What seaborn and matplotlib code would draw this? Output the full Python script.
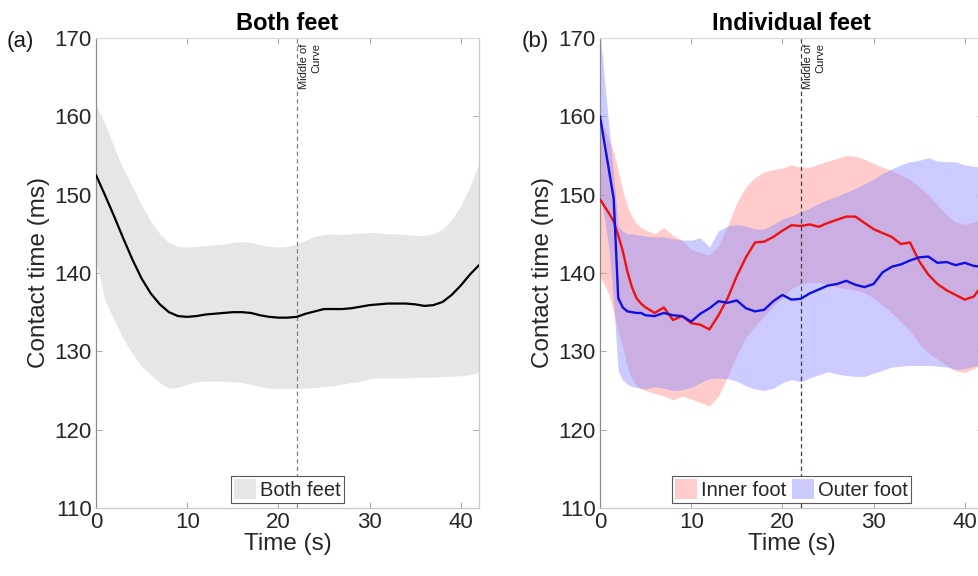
import matplotlib
matplotlib.use("Agg")
import numpy as np
import pandas as pd
import matplotlib.pyplot as plt
import seaborn as sns
from matplotlib.patches import Patch

# ---------------- data ----------------
# (a) both feet: mean and band limits, sampled every second
time_both = list(range(0, 43))
both_mean = [152.5, 149.9, 147.2, 144.4, 141.7, 139.3, 137.4, 136.0, 135.0, 134.5,
             134.4, 134.5, 134.7, 134.8, 134.9, 135.0, 135.0, 134.9, 134.6, 134.4,
             134.3, 134.3, 134.4, 134.8, 135.1, 135.4, 135.4, 135.4, 135.5, 135.7,
             135.9, 136.0, 136.1, 136.1, 136.1, 136.0, 135.8, 135.9, 136.3, 137.2,
             138.4, 139.8, 141.0]
both_upper = [161.4, 159.0, 156.0, 153.3, 151.0, 148.7, 146.6, 145.0, 143.9, 143.4,
              143.3, 143.4, 143.5, 143.6, 143.7, 143.9, 144.0, 143.9, 143.6, 143.4,
              143.3, 143.4, 143.7, 144.2, 144.7, 144.9, 145.0, 144.9, 145.0, 145.1,
              145.2, 145.1, 145.0, 145.0, 144.9, 144.8, 144.8, 145.0, 145.6, 146.8,
              148.6, 151.0, 154.0]
both_lower = [141.5, 136.5, 134.0, 131.6, 129.7, 128.1, 127.0, 126.0, 125.3, 125.4,
              125.8, 126.1, 126.2, 126.2, 126.2, 126.1, 126.0, 125.8, 125.5, 125.3,
              125.3, 125.3, 125.3, 125.3, 125.4, 125.5, 125.6, 125.8, 126.0, 126.2,
              126.5, 126.6, 126.6, 126.6, 126.6, 126.7, 126.7, 126.7, 126.8, 126.8,
              126.9, 127.0, 127.3]

# (b) individual feet
time_ind = [0, 0.5, 1, 1.5, 2, 2.5, 3, 3.5, 4, 4.5] + list(range(5, 43))
inner_mean = [149.4, 148.5, 147.6, 146.6, 144.8, 142.8, 140.2, 138.2, 136.8, 136.1,
              135.6, 134.9, 135.6, 134.0, 134.5, 133.6, 133.4, 132.8, 134.6, 136.8,
              139.6, 142.0, 143.9, 144.0, 144.6, 145.4, 146.1, 146.0, 146.2, 145.9,
              146.4, 146.8, 147.2, 147.2, 146.4, 145.6, 145.1, 144.6, 143.7, 143.9,
              141.5, 139.8, 138.6, 137.8, 137.2, 136.6, 137.0, 138.6]
inner_upper = [160.0, 158.5, 157.0, 155.5, 153.0, 150.5, 148.5, 147.2, 146.3, 145.8,
               145.5, 145.0, 145.8, 144.8, 144.2, 143.0, 142.6, 142.3, 143.5, 146.0,
               149.0, 151.0, 152.2, 152.9, 153.2, 153.4, 153.8, 153.5, 153.5, 153.9,
               154.3, 154.6, 155.0, 154.9, 154.5, 154.0, 153.5, 153.1, 152.5, 151.9,
               151.0, 150.0, 148.7, 147.4, 146.5, 146.2, 146.5, 147.0]
inner_lower = [139.5, 138.5, 137.2, 135.0, 132.5, 130.5, 128.0, 126.5, 125.6, 125.2,
               125.0, 124.6, 124.3, 123.8, 124.3, 123.9, 123.5, 123.0, 124.3, 126.8,
               129.5, 131.8, 133.2, 134.5, 135.8, 136.8, 138.0, 138.6, 138.8, 138.8,
               138.5, 138.2, 138.0, 137.8, 137.5, 136.8, 135.9, 134.9, 133.8, 132.6,
               131.0, 129.8, 129.0, 128.2, 127.5, 127.3, 127.8, 128.4]
outer_mean = [160.0, 156.5, 153.0, 149.5, 136.8, 135.6, 135.1, 135.0, 134.9, 134.9,
              134.6, 134.5, 134.9, 134.6, 134.5, 133.8, 134.8, 135.5, 136.4, 136.2,
              136.5, 135.5, 135.1, 135.3, 136.4, 137.2, 136.6, 136.7, 137.4, 137.9,
              138.4, 138.6, 139.0, 138.5, 138.2, 138.6, 140.1, 140.8, 141.1, 141.6,
              142.0, 142.1, 141.3, 141.4, 141.0, 141.3, 140.9, 140.8]
outer_upper = [171.0, 164.5, 158.5, 152.5, 146.0, 145.3, 145.0, 145.0, 144.9, 144.8,
               144.7, 144.6, 144.6, 144.4, 144.2, 144.2, 144.5, 143.3, 145.4, 146.0,
               146.2, 146.0, 145.6, 145.6, 146.2, 146.9, 147.3, 147.8, 148.3, 148.9,
               149.4, 149.8, 150.3, 150.8, 151.4, 152.0, 152.7, 153.3, 153.8, 154.2,
               154.4, 154.7, 154.3, 154.2, 154.2, 153.8, 153.6, 153.5]
outer_lower = [150.0, 147.0, 143.0, 136.0, 127.5, 126.3, 125.8, 125.5, 125.4, 125.3,
               125.2, 125.5, 125.3, 125.0, 125.1, 125.4, 126.0, 126.5, 126.6, 126.5,
               126.2, 125.6, 125.2, 125.0, 125.3, 126.0, 126.4, 126.1, 126.6, 127.0,
               127.4, 127.1, 126.9, 126.8, 126.8, 127.2, 127.6, 128.0, 128.1, 128.2,
               128.2, 128.2, 128.1, 128.0, 127.7, 127.8, 128.1, 128.2]

x_ticks = [0, 10, 20, 30, 40]
y_ticks = [110, 120, 130, 140, 150, 160, 170]
mid_curve = 22

df_both = pd.DataFrame({"t": time_both, "mean": both_mean,
                        "upper": both_upper, "lower": both_lower})
df_ind = pd.DataFrame({"t": time_ind,
                       "inner": inner_mean, "inner_up": inner_upper, "inner_lo": inner_lower,
                       "outer": outer_mean, "outer_up": outer_upper, "outer_lo": outer_lower})

# ---------------- style ----------------
sns.set_theme(style="white")
plt.rcParams['font.family'] = ['Liberation Sans', 'DejaVu Sans']
plt.rcParams['text.color'] = '0.15'
plt.rcParams['axes.labelcolor'] = '0.15'

GRAY_BAND = '0.9'
PINK = (1.0, 0.55, 0.55)
LAV = (0.55, 0.55, 1.0)
BAND_ALPHA = 0.45

fig = plt.figure(figsize=(9.79, 5.76), dpi=100)
ax_a = fig.add_axes([96 / 979, 68 / 576, 383 / 979, 470 / 576])
ax_b = fig.add_axes([600 / 979, 68 / 576, 383 / 979, 470 / 576])


def style_axes(ax):
    ax.set_xlim(0, 42)
    ax.set_ylim(110, 170)
    ax.set_xticks(x_ticks)
    ax.set_yticks(y_ticks)
    ax.tick_params(direction='in', length=4, width=0.6, color='0.6',
                   labelsize=16, labelcolor='0.15', top=True, right=True,
                   bottom=True, left=True, pad=3)
    for side, col in [('left', '0.55'), ('bottom', '0.78'),
                      ('top', '0.85'), ('right', '0.8')]:
        ax.spines[side].set_visible(True)
        ax.spines[side].set_color(col)
        ax.spines[side].set_linewidth(0.9)
    ax.set_xlabel("Time (s)", fontsize=17.5, labelpad=0)
    ax.set_ylabel("Contact time (ms)", fontsize=17.5, labelpad=3)


def band_legend(ax, handles, ncol):
    leg = ax.legend(handles=handles, loc='lower center', ncol=ncol, frameon=True,
                    fancybox=False, edgecolor='0.35', framealpha=1, fontsize=14.5,
                    borderpad=0.15, handlelength=1.1, handleheight=1.1,
                    handletextpad=0.2, columnspacing=0.25, borderaxespad=0.25)
    leg.get_frame().set_linewidth(0.8)
    return leg


def mark_mid_curve(ax, line_color):
    ax.axvline(mid_curve, color=line_color, ls=(0, (3.5, 2.5)), lw=0.9, zorder=2)
    ax.text(mid_curve + 0.3, 169.3, "Middle of\nCurve", rotation=90, ha='left',
            va='top', fontsize=8, multialignment='right', color='0.1')


# ---- (a) both feet ----
ax_a.fill_between(df_both["t"], df_both["lower"], df_both["upper"],
                  color=GRAY_BAND, lw=0, zorder=1)
sns.lineplot(data=df_both, x="t", y="mean", ax=ax_a, color='black',
             linewidth=1.6, zorder=3)
mark_mid_curve(ax_a, '0.5')
style_axes(ax_a)
ax_a.set_title("Both feet", fontsize=17, fontweight='bold', pad=6, color='black')
band_legend(ax_a, [Patch(facecolor=GRAY_BAND, edgecolor='none', label='Both feet')], 1)

# ---- (b) individual feet ----
ax_b.fill_between(df_ind["t"], df_ind["inner_lo"], df_ind["inner_up"],
                  color=PINK, alpha=BAND_ALPHA, lw=0, zorder=1)
ax_b.fill_between(df_ind["t"], df_ind["outer_lo"], df_ind["outer_up"],
                  color=LAV, alpha=BAND_ALPHA, lw=0, zorder=1)
sns.lineplot(data=df_ind, x="t", y="inner", ax=ax_b, color='#ee1111',
             linewidth=1.7, zorder=3)
sns.lineplot(data=df_ind, x="t", y="outer", ax=ax_b, color='#1010e0',
             linewidth=1.7, zorder=3)
mark_mid_curve(ax_b, '0.25')
style_axes(ax_b)
ax_b.set_title("Individual feet", fontsize=17, fontweight='bold', pad=6, color='black')
band_legend(ax_b, [Patch(facecolor=PINK, alpha=BAND_ALPHA, edgecolor='none', label='Inner foot'),
                   Patch(facecolor=LAV, alpha=BAND_ALPHA, edgecolor='none', label='Outer foot')], 2)

# panel letters
fig.text(7 / 979, 1 - 41 / 576, "(a)", fontsize=16, va='center', ha='left', color='0.1')
fig.text(522 / 979, 1 - 41 / 576, "(b)", fontsize=16, va='center', ha='left', color='0.1')

fig.savefig("out.png", dpi=100)
